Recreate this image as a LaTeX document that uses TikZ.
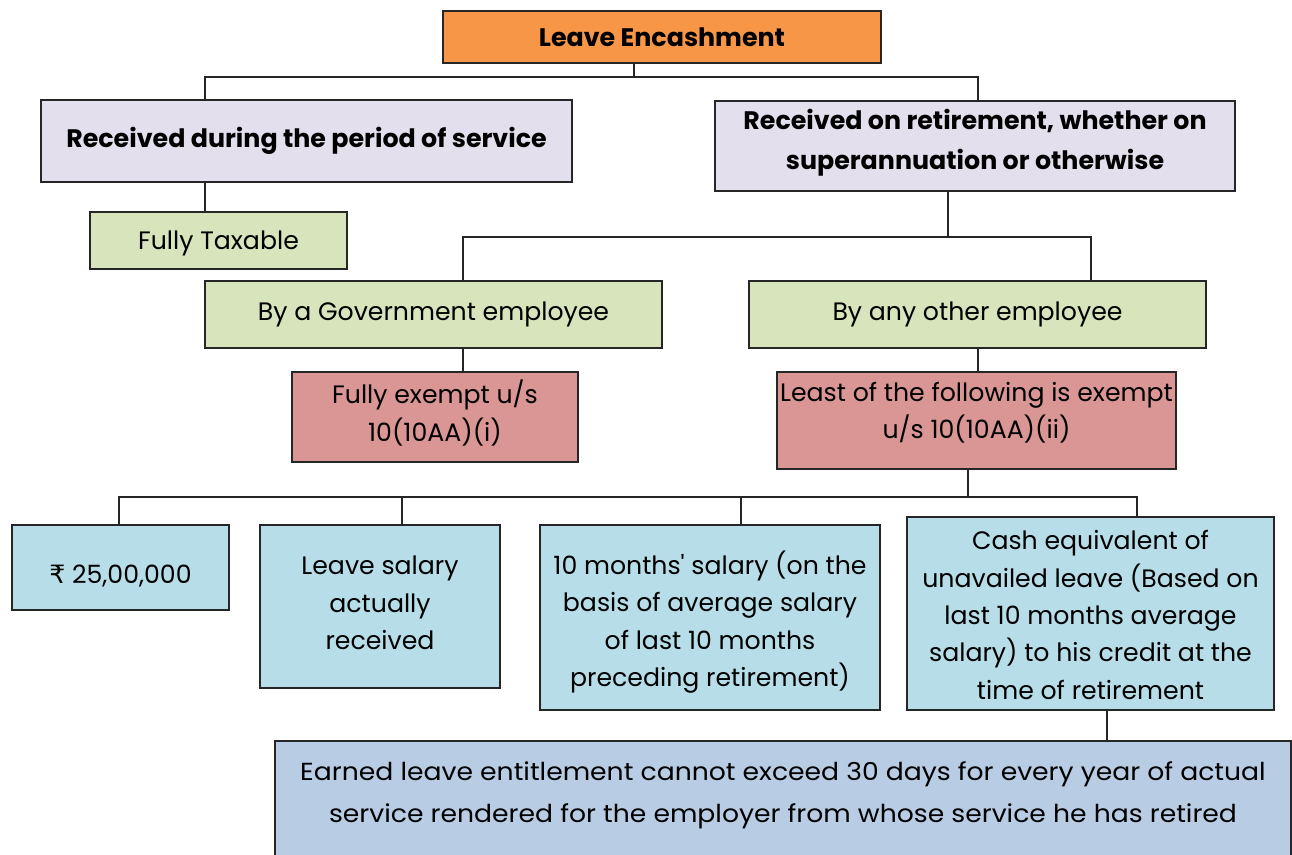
\documentclass[tikz,border=0pt]{standalone}
\usepackage{fontspec}
\setmainfont{Poppins}[Ligatures=ResetAll]
\newfontfamily\symfont{DejaVu Sans}
\definecolor{cOrange}{HTML}{F79646}
\definecolor{cLav}{HTML}{E4DFEC}
\definecolor{cGreen}{HTML}{D8E4BC}
\definecolor{cPink}{HTML}{DA9694}
\definecolor{cCyan}{HTML}{B7DEE8}
\definecolor{cBlue}{HTML}{B8CCE4}
\tikzset{
  txt/.style={align=center, inner sep=0pt, font=\fontsize{18.9}{28}\selectfont},
  box/.style={txt, draw=black!85, line width=1.9pt},
  boldbox/.style={box, font=\fontsize{19}{30}\selectfont\bfseries},
  conn/.style={draw=black!85, line width=1.5pt},
}
\begin{document}
\begin{tikzpicture}[x=0.75pt,y=-0.75pt]
\useasboundingbox (0,0) rectangle (1292,855);
\fill[white] (0,0) rectangle (1292,855);

\node[boldbox, fill=cOrange, minimum width=328.5pt, minimum height=39pt] (top) at (662,37) {Leave Encashment};
\node[boldbox, fill=cLav, minimum width=398.25pt, minimum height=61.5pt] (rds) at (306.5,141) {Received during the period of service};
\node[boldbox, fill=cLav, minimum width=390pt, minimum height=67.5pt] (ror) at (975,146) {};
\node[boldbox, draw=none] (rortxt) at (975,143) {Received on retirement, whether on\\superannuation or otherwise};
\node[box, fill=cGreen, minimum width=192.75pt, minimum height=42.75pt] (tax) at (218.5,240.5) {};
\node[txt] (taxtxt) at (218.5,243) {Fully Taxable};
\node[box, fill=cGreen, minimum width=342.75pt, minimum height=50.25pt] (gov) at (433.5,314.5) {By a Government employee};
\node[box, fill=cGreen, minimum width=342.75pt, minimum height=50.25pt] (oth) at (977.5,314.5) {By any other employee};
\node[box, fill=cPink, minimum width=214.5pt, minimum height=67.5pt] (fex) at (435,417) {};
\node[txt] (fextxt) at (435,413) {Fully exempt u/s\\10(10AA)(i)};
\node[box, fill=cPink, minimum width=299.25pt, minimum height=72.75pt] (lst) at (976.5,420.5) {};
\node[txt] (lsttxt) at (976.5,413) {Least of the following is exempt\\u/s 10(10AA)(ii)};
\node[box, fill=cCyan, minimum width=162.75pt, minimum height=63.75pt] (rup) at (120.5,567.5) {};
\node[txt] (ruptxt) at (120.5,576) {{\symfont ₹} 25,00,000};
\node[box, fill=cCyan, minimum width=180pt, minimum height=122.25pt] (lsal) at (380,606.5) {};
\node[txt] (lsaltxt) at (380,603) {Leave salary\\actually\\received};
\node[box, fill=cCyan, minimum width=255pt, minimum height=138.75pt] (tenm) at (710,617.5) {};
\node[txt] (tenmtxt) at (710,622) {10 months\textquotesingle{} salary (on the\\basis of average salary\\of last 10 months\\preceding retirement)};
\node[box, fill=cCyan, minimum width=275.25pt, minimum height=144.75pt] (cash) at (1090.5,613.5) {};
\node[txt] (cashtxt) at (1090.5,615) {Cash equivalent of\\unavailed leave (Based on\\last 10 months average\\salary) to his credit at the\\time of retirement};
\node[box, fill=cBlue, minimum width=762pt, minimum height=96.75pt] (bot) at (783,805.5) {};
\node[txt, font=\fontsize{18.5}{31.5}\selectfont, xscale=1.08] (bottxt) at (783,795) {Earned leave entitlement cannot exceed 30 days for every year of actual\\service rendered for the employer from whose service he has retired};

% connectors
\draw[conn] (634,0 |- top.south) |- (205,77) -- (205,0 |- rds.north);
\draw[conn] (634,77) -| (978,0 |- ror.north);
\draw[conn] (205,0 |- rds.south) -- (205,0 |- tax.north);
\draw[conn] (948,0 |- ror.south) |- (463,237) -- (463,0 |- gov.north);
\draw[conn] (948,237) -| (1091,0 |- oth.north);
\draw[conn] (463,0 |- gov.south) -- (463,0 |- fex.north);
\draw[conn] (978,0 |- oth.south) -- (978,0 |- lst.north);
\draw[conn] (968,0 |- lst.south) |- (119,497) -- (119,0 |- rup.north);
\draw[conn] (968,497) -| (1137,0 |- cash.north);
\draw[conn] (402,497) -- (402,0 |- lsal.north);
\draw[conn] (741,497) -- (741,0 |- tenm.north);
\draw[conn] (1107,0 |- cash.south) -- (1107,0 |- bot.north);
\end{tikzpicture}
\end{document}
